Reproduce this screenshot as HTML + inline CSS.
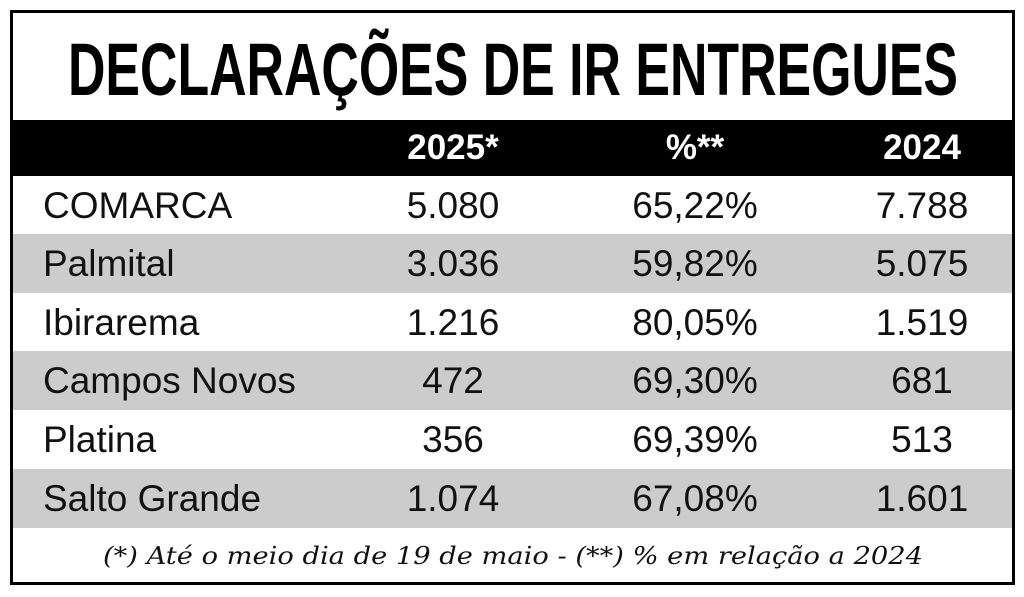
<!DOCTYPE html>
<html><head><meta charset="utf-8"><style>
body{margin:0;width:1024px;height:597px;background:#fff;position:relative;overflow:hidden;font-family:"Liberation Sans",sans-serif}
#box{position:absolute;left:10px;top:10px;width:999px;height:569px;border:3px solid #000;background:#fff;overflow:hidden}
#title{position:absolute;left:0;top:0;width:999px;height:107px}
.row{position:absolute;left:0;width:999px;height:59px;font-size:37px;line-height:59px;color:#111}
.row div{position:absolute;top:0;white-space:nowrap}
.hdr{background:#000;color:#fff;font-weight:bold;font-size:35px;height:56px;line-height:56px}
.g{background:#cccccc}
.n{left:30px}
.c1,.c2,.c3{width:240px;text-align:center;margin-left:-120px}
.c1{left:440px}.c2{left:682px}.c3{left:909px}
#foot{position:absolute;left:0;top:518px;width:999px;height:51px}
</style></head><body>
<div id="box">
<svg id="title" width="999" height="107"><text x="55" y="82" textLength="890" lengthAdjust="spacingAndGlyphs" font-family="Liberation Sans, sans-serif" font-weight="bold" font-size="74" fill="#000">DECLARAÇÕES DE IR ENTREGUES</text></svg>
<div class="row hdr" style="top:107px"><div class="c1">2025*</div><div class="c2">%**</div><div class="c3">2024</div></div>
<div class="row" style="top:163px"><div class="n">COMARCA</div><div class="c1">5.080</div><div class="c2">65,22%</div><div class="c3">7.788</div></div>
<div class="row g" style="top:221px"><div class="n">Palmital</div><div class="c1">3.036</div><div class="c2">59,82%</div><div class="c3">5.075</div></div>
<div class="row" style="top:280px"><div class="n">Ibirarema</div><div class="c1">1.216</div><div class="c2">80,05%</div><div class="c3">1.519</div></div>
<div class="row g" style="top:338px"><div class="n">Campos Novos</div><div class="c1">472</div><div class="c2">69,30%</div><div class="c3">681</div></div>
<div class="row" style="top:397px"><div class="n">Platina</div><div class="c1">356</div><div class="c2">69,39%</div><div class="c3">513</div></div>
<div class="row g" style="top:456px"><div class="n">Salto Grande</div><div class="c1">1.074</div><div class="c2">67,08%</div><div class="c3">1.601</div></div>
<svg id="foot" width="999" height="51"><text x="90" y="33" textLength="820" lengthAdjust="spacingAndGlyphs" font-family="DejaVu Serif, serif" font-style="italic" font-size="24" fill="#111">(*) Até o meio dia de 19 de maio - (**) % em relação a 2024</text></svg>
</div>
</body></html>
